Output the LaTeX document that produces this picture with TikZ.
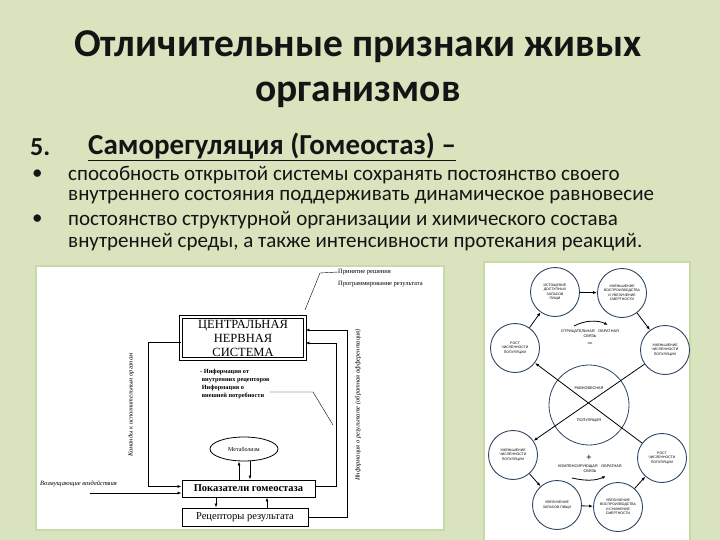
\documentclass[tikz,border=0pt]{standalone}
\usepackage{fontspec}
\setmainfont{Carlito}
\newfontfamily\diagserif{Liberation Serif}
\newfontfamily\diagsans{Liberation Sans}
\usetikzlibrary{arrows.meta,shapes.geometric}
\definecolor{slidebg}{RGB}{217,228,190}
\definecolor{panelrim}{RGB}{200,218,165}
\definecolor{ringblue}{RGB}{45,70,100}
\definecolor{inktext}{RGB}{20,20,20}
\tikzset{
  box/.style={draw, line width=.9pt, fill=white, inner sep=1pt, font=\diagserif\fontsize{10.5}{11}\selectfont},
  ring/.style={circle, draw=ringblue, line width=.9pt, fill=white, minimum size=49pt, inner sep=0pt, align=center, font=\diagsans\fontsize{3.5}{4.4}\selectfont},
  link/.style={-{Latex[length=4pt,width=3pt]}, line width=.8pt},
  note/.style={font=\diagserif\itshape\fontsize{6.5}{7.5}\selectfont, inner sep=0pt},
  line/.style={font=\fontsize{21}{22}\selectfont, anchor=west, inner sep=0pt, text=inktext},
}
\begin{document}
\begin{tikzpicture}[x=1pt, y=-1pt]
    \fill[slidebg] (0,0) rectangle (720,540);
    \useasboundingbox (0,0) rectangle (720,540);
    % heading of the slide
    \node[font=\bfseries\fontsize{39.5}{42}\selectfont, text=inktext] (title1) at (358,47) {Отличительные признаки живых};
    \node[font=\bfseries\fontsize{39.5}{42}\selectfont, text=inktext] (title2) at (358,95) {организмов};
    \node[line, font=\bfseries\fontsize{26}{28}\selectfont] (num) at (30,147) {5.};
    \node[line, font=\bfseries\fontsize{29}{30}\selectfont] (head) at (88,147) {\underline{Саморегуляция (Гомеостаз) –}};
    \foreach \y in {175,220}
    {
        \node[line] at (32,\y) {•};
    }
    \node[line] (t1) at (68,175) {способность открытой системы сохранять постоянство своего};
    \node[line] (t2) at (68,197) {внутреннего состояния поддерживать динамическое равновесие};
    \node[line] (t3) at (68,220) {постоянство структурной организации и химического состава};
    \node[line] (t4) at (68,242) {внутренней среды, а также интенсивности протекания реакций.};
    % left picture
    \draw[panelrim, line width=2pt, fill=white] (36,266) rectangle (444,530);
    \node[box, double, double distance=1.3pt, minimum width=124pt, minimum height=42pt, align=center, font=\diagserif\fontsize{12.5}{14}\selectfont] (cns) at (243,338) {ЦЕНТРАЛЬНАЯ\\НЕРВНАЯ\\СИСТЕМА};
    \node[box, minimum width=133pt, minimum height=17pt, font=\diagserif\bfseries\fontsize{10.5}{11}\selectfont] (indic) at (248.5,488.5) {Показатели гомеостаза};
    \node[box, minimum width=126pt, minimum height=18pt] (recep) at (245,517) {Рецепторы результата};
    \node[ellipse, draw, line width=.8pt, minimum width=68pt, minimum height=24pt, inner sep=0pt, font=\diagserif\fontsize{6}{7}\selectfont] (metab) at (244,449) {Метаболизм};
    \node[note, font=\diagserif\fontsize{6.5}{7.5}\selectfont, anchor=west] (decide) at (338,272) {Принятие решения};
    \node[note, font=\diagserif\fontsize{6.5}{7.5}\selectfont, anchor=west] (prog) at (338,284) {Программирование результата};
    \node[note, font=\diagserif\bfseries\fontsize{6.3}{8}\selectfont, align=left, anchor=west] (info) at (200,384) {- Информация от\\ \ внутренних рецепторов\\ \ Информация о\\ \ внешней потребности};
    \node[note, rotate=90] (cmd) at (131,405) {Команды к исполнительным органам};
    \node[note, rotate=90] (fb) at (358,405) {Информация о результате (обратная афферентация)};
    \node[note, anchor=west] (dist) at (40,484) {Возмущающие воздействия};
    \coordinate (distin) at (90,493);
    \draw[link] ([yshift=-4pt]cns.west) -- ++(-32,0) |- ([yshift=2pt]indic.west);
    \draw[link] (distin) -- (distin -| indic.west);
    \draw[link] ([yshift=2pt]indic.east) -| (336,343) -- (cns.east |- 0,343);
    \draw[link] (recep.east) -| (347,330) -- (cns.east |- 0,330);
    \draw[link] (indic.south -| 216,0) -- (recep.north -| 216,0);
    \draw[link] (recep.north -| 267,0) -- (indic.south -| 267,0);
    \draw[link] (indic.north -| 239,0) -- (metab.south -| 239,0);
    \draw[link] (metab.south -| 250,0) -- (indic.north -| 250,0);
    \draw (305,310) -- (320,273) -- (decide.west);
    \draw (info.east |- 0,392) -- (313,392) -- (333,425);
    % right picture
    \draw[panelrim, line width=2pt, fill=white] (484,262) rectangle (690,541);
    \node[circle, draw=ringblue, line width=.8pt, fill=white, minimum size=80pt, inner sep=0pt] (eq) at (589,405) {};
    \node[font=\diagsans\fontsize{3.8}{4}\selectfont] (eqtop) at (589,388) {РАВНОВЕСНАЯ};
    \node[font=\diagsans\fontsize{3.8}{4}\selectfont] (eqbot) at (589,421) {ПОПУЛЯЦИЯ};
    \node[ring] (r1) at (555,292) {ИСТОЩЕНИЕ\\ДОСТУПНЫХ\\ЗАПАСОВ\\ПИЩИ};
    \node[ring] (r2) at (622,293) {УМЕНЬШЕНИЕ\\ВОСПРОИЗВОДСТВА\\И УВЕЛИЧЕНИЕ\\СМЕРТНОСТИ};
    \node[ring] (r3) at (665,350) {УМЕНЬШЕНИЕ\\ЧИСЛЕННОСТИ\\ПОПУЛЯЦИИ};
    \node[ring] (r4) at (515,348) {РОСТ\\ЧИСЛЕННОСТИ\\ПОПУЛЯЦИИ};
    \node[ring] (r5) at (513,455) {УМЕНЬШЕНИЕ\\ЧИСЛЕННОСТИ\\ПОПУЛЯЦИИ};
    \node[ring] (r6) at (662,458) {РОСТ\\ЧИСЛЕННОСТИ\\ПОПУЛЯЦИИ};
    \node[ring] (r7) at (557,505) {УВЕЛИЧЕНИЕ\\ЗАПАСОВ ПИЩИ};
    \node[ring] (r8) at (618,507) {УВЕЛИЧЕНИЕ\\ВОСПРОИЗВОДСТВА\\И СНИЖЕНИЕ\\СМЕРТНОСТИ};
    \draw[link] (r4) -- (r1);
    \draw[link] (r1) -- (r2);
    \draw[link] (r2) -- (r3);
    \draw[link] (r3) -- (r5);
    \draw[link] (r5) -- (r7);
    \draw[link] (r7) -- (r8);
    \draw[link] (r8) -- (r6);
    \draw[link] (r6) -- (r4);
    \node[font=\diagsans\fontsize{3.8}{5}\selectfont, align=center] (neg) at (590,334) {ОТРИЦАТЕЛЬНАЯ\quad ОБРАТНАЯ\\СВЯЗЬ};
    \node[font=\diagsans\fontsize{9}{9}\selectfont] (minus) at (590,345) {−};
    \node[font=\diagsans\fontsize{9}{9}\selectfont] (plus) at (589,458) {+};
    \node[font=\diagsans\fontsize{3.8}{5}\selectfont, align=center] (pos) at (590,469) {КОМПЕНСИРУЮЩАЯ\quad ОБРАТНАЯ\\СВЯЗЬ};
    \coordinate (negA) at (574,326);
    \coordinate (negB) at (608,325);
    \coordinate (posA) at (572,478);
    \coordinate (posB) at (606,476);
    \draw[link] (negA) .. controls (585,320) and (598,320) .. (negB);
    \draw[link] (posA) .. controls (585,481) and (595,481) .. (posB);
\end{tikzpicture}
\end{document}
